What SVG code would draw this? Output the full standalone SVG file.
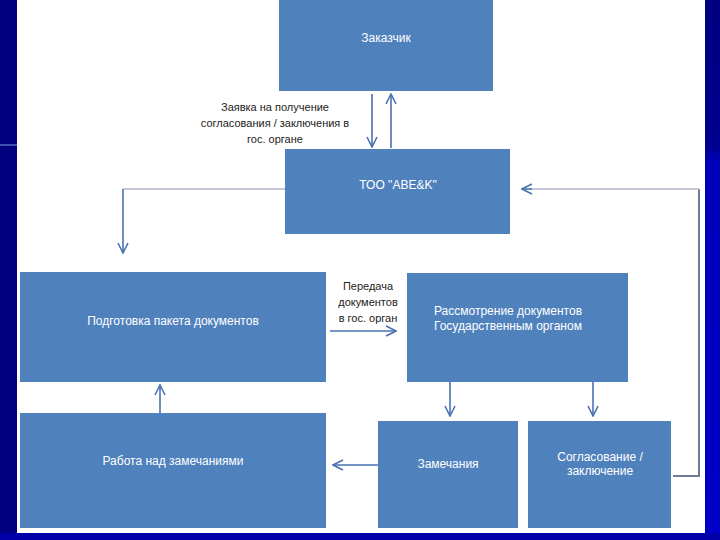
<svg xmlns="http://www.w3.org/2000/svg" width="720" height="540" viewBox="0 0 720 540">
<defs>
<marker id="chev" viewBox="0 0 12 12" refX="11" refY="6" markerWidth="12" markerHeight="12" markerUnits="userSpaceOnUse" orient="auto">
<path d="M1,1 L11,6 L1,11" fill="none" stroke="#4a72b0" stroke-width="1.6"/>
</marker>
<linearGradient id="rside" x1="0" y1="0" x2="0" y2="1">
<stop offset="0" stop-color="#000080"/>
<stop offset="0.27" stop-color="#000090"/>
<stop offset="0.3" stop-color="#0000b8"/>
<stop offset="1" stop-color="#0000c8"/>
</linearGradient>
</defs>
<style>
.box{fill:#4f81bd;}
.t{font-family:"Liberation Sans",Arial,sans-serif;font-size:12px;fill:#ffffff;}
.lbl{font-family:"Liberation Sans",Arial,sans-serif;font-size:11px;fill:#222222;text-anchor:middle;}
.c{fill:none;stroke:#4a72b0;stroke-width:1.6;}
.g{fill:none;stroke:#c6c8da;stroke-width:2;}
.gv{fill:none;stroke:#6c7d98;stroke-width:2;}
.in{fill:none;stroke:#3f6aa3;stroke-width:1.6;}
</style>
<rect x="0" y="0" width="720" height="540" fill="#000080"/>
<rect x="705" y="0" width="15" height="540" fill="url(#rside)"/>
<rect x="0" y="533" width="720" height="7" fill="#0000a8"/>
<rect x="0" y="144" width="17" height="2" fill="#4050b0"/>
<rect x="17" y="0" width="688" height="533" fill="#ffffff"/>

<g id="connectors">
<path class="c" d="M372,94 L372,147" marker-end="url(#chev)"/>
<path class="c" d="M391,148 L391,94" marker-end="url(#chev)"/>
<path class="g" d="M285,189 L123,189"/>
<path class="c" d="M123,189 L123,253" marker-end="url(#chev)"/>
<path class="c" d="M330,331 L396,331" marker-end="url(#chev)"/>
<path class="in" d="M450,360 L450,382"/>
<path class="c" d="M450,382 L450,416" marker-end="url(#chev)"/>
<path class="in" d="M593,360 L593,382"/>
<path class="c" d="M593,382 L593,416" marker-end="url(#chev)"/>
<path class="c" d="M378,465 L333,465" marker-end="url(#chev)"/>
<path class="in" d="M160,440 L160,413"/>
<path class="c" d="M160,413 L160,385" marker-end="url(#chev)"/>
<path class="gv" d="M673,476 L699,476 L699,189"/>
<path class="g" d="M699,189 L530,189"/>
<path class="c" d="M532,189 L522,189" marker-end="url(#chev)"/>
</g>

<g id="n-zakazchik">
<rect class="box" x="279" y="0" width="214" height="91"/>
<text class="t" x="386" y="42" text-anchor="middle">Заказчик</text>
</g>
<g id="label-zayavka">
<text class="lbl" x="275" y="111">Заявка на получение</text>
<text class="lbl" x="275" y="127">согласования / заключения в</text>
<text class="lbl" x="275" y="143">гос. органе</text>
</g>
<g id="n-too">
<rect class="box" x="285" y="149" width="225" height="85"/>
<text class="t" x="398" y="189" text-anchor="middle">ТОО "ABE&amp;K"</text>
</g>
<g id="n-podgotovka">
<rect class="box" x="20" y="272" width="306" height="110"/>
<text class="t" x="173" y="325" text-anchor="middle">Подготовка пакета документов</text>
</g>
<g id="label-peredacha">
<text class="lbl" x="368" y="290">Передача</text>
<text class="lbl" x="368" y="306">документов</text>
<text class="lbl" x="368" y="322">в гос. орган</text>
</g>
<g id="n-rassmotrenie">
<rect class="box" x="407" y="273" width="221" height="109"/>
<text class="t" x="434" y="315">Рассмотрение документов</text>
<text class="t" x="434" y="330">Государственным органом</text>
</g>
<g id="n-rabota">
<rect class="box" x="20" y="413" width="306" height="115"/>
<text class="t" x="173" y="465" text-anchor="middle">Работа над замечаниями</text>
</g>
<g id="n-zamechaniya">
<rect class="box" x="378" y="421" width="140" height="107"/>
<text class="t" x="448" y="468" text-anchor="middle">Замечания</text>
</g>
<g id="n-soglasovanie">
<rect class="box" x="528" y="421" width="143" height="107"/>
<text class="t" x="600" y="461" text-anchor="middle">Согласование /</text>
<text class="t" x="600" y="475" text-anchor="middle">заключение</text>
</g>
</svg>
